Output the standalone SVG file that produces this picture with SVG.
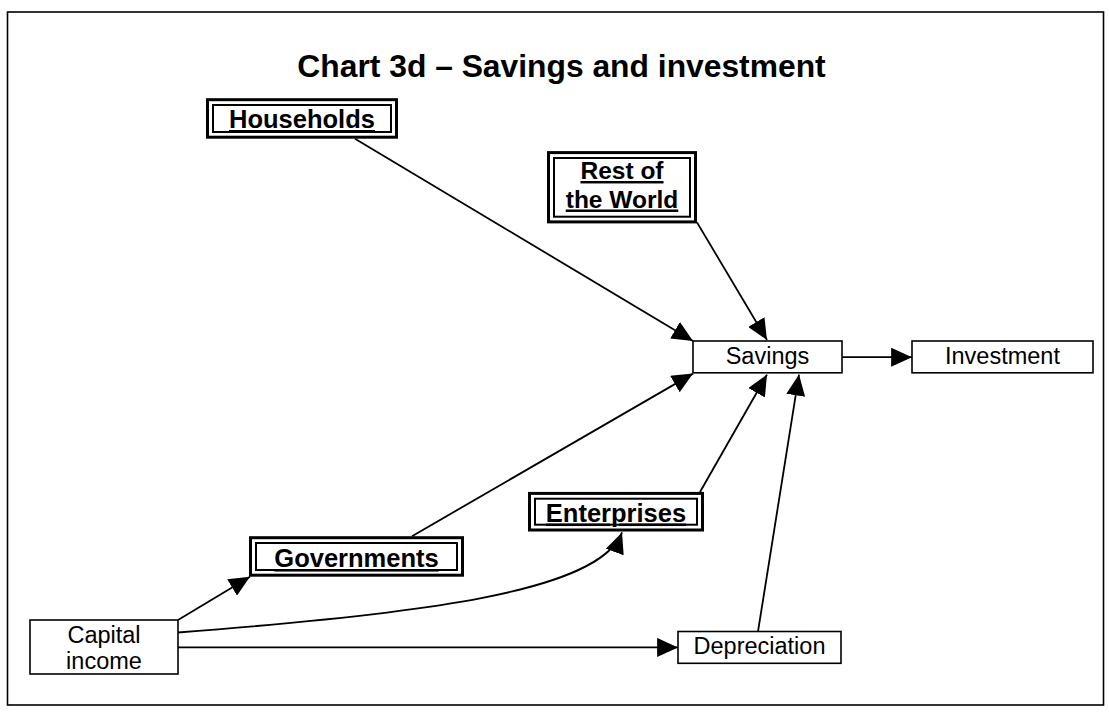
<svg xmlns="http://www.w3.org/2000/svg" width="1109" height="723" viewBox="0 0 1109 723">
<defs>
<marker id="ah" viewBox="0 0 22 20" refX="22" refY="10" markerWidth="21" markerHeight="19" markerUnits="userSpaceOnUse" orient="auto">
<path d="M0,0 L22,10 L0,20 z" fill="#000"/>
</marker>
<style>
.frame{fill:#fff;stroke:#000;stroke-width:1.6}
.box{fill:#fff;stroke:#000;stroke-width:1.6}
.outer{fill:#fff;stroke:#000;stroke-width:3}
.inner{fill:none;stroke:#000;stroke-width:2}
.t{font-family:"Liberation Sans",Arial,sans-serif;font-size:23.5px;text-anchor:middle;fill:#000}
.b{font-family:"Liberation Sans",Arial,sans-serif;font-size:25.5px;font-weight:bold;text-anchor:middle;fill:#000;text-decoration:underline}
.r{font-size:24.5px}
.title{font-family:"Liberation Sans",Arial,sans-serif;font-size:31.8px;font-weight:bold;text-anchor:middle;fill:#000}
.c{fill:none;stroke:#000;stroke-width:1.8;marker-end:url(#ah)}
</style>
</defs>
<rect class="frame" x="7.5" y="12" width="1096" height="693"/>
<text class="title" x="561.5" y="77">Chart 3d – Savings and investment</text>
<g id="connectors">
<path class="c" d="M355,138.7 L693,341"/>
<path class="c" d="M697,222.4 L767,340"/>
<path class="c" d="M412,536.2 L693,373.6"/>
<path class="c" d="M700,492 L767,374.6"/>
<path class="c" d="M758,631.5 L799,374.6"/>
<path class="c" d="M842,357.2 L912,357.2"/>
<path class="c" d="M178,620 L250,576.7"/>
<path class="c" d="M178,632.5 C420,614 600,592 622,532.4"/>
<path class="c" d="M178,647.4 L678,647.4"/>
</g>
<g id="households">
<rect class="outer" x="207.5" y="99.7" width="189" height="37.5"/>
<rect class="inner" x="213" y="105" width="178" height="27"/>
<text class="b" x="302" y="128">Households</text>
</g>
<g id="rest-of-world">
<rect class="outer" x="548.5" y="152.6" width="147" height="69.3"/>
<rect class="inner" x="554" y="158" width="136" height="58.7"/>
<text class="b r" x="622" y="179">Rest of</text>
<text class="b r" x="622" y="207.5">the World</text>
</g>
<g id="savings">
<rect class="box" x="693" y="341" width="149" height="31.8"/>
<text class="t" x="767.5" y="363.5">Savings</text>
</g>
<g id="investment">
<rect class="box" x="912" y="341" width="181" height="31.8"/>
<text class="t" x="1002.5" y="363.5">Investment</text>
</g>
<g id="enterprises">
<rect class="outer" x="529.5" y="493.4" width="173" height="36.6"/>
<rect class="inner" x="535" y="498.7" width="162" height="26"/>
<text class="b" x="616" y="521.5">Enterprises</text>
</g>
<g id="governments">
<rect class="outer" x="250.5" y="537.7" width="212" height="37.5"/>
<rect class="inner" x="256" y="543" width="201" height="27"/>
<text class="b" x="356.5" y="567">Governments</text>
</g>
<g id="capital-income">
<rect class="box" x="30" y="620" width="148" height="54"/>
<text class="t" x="104" y="643">Capital</text>
<text class="t" x="104" y="669">income</text>
</g>
<g id="depreciation">
<rect class="box" x="678" y="631.5" width="163" height="31.8"/>
<text class="t" x="759.5" y="654">Depreciation</text>
</g>
</svg>
